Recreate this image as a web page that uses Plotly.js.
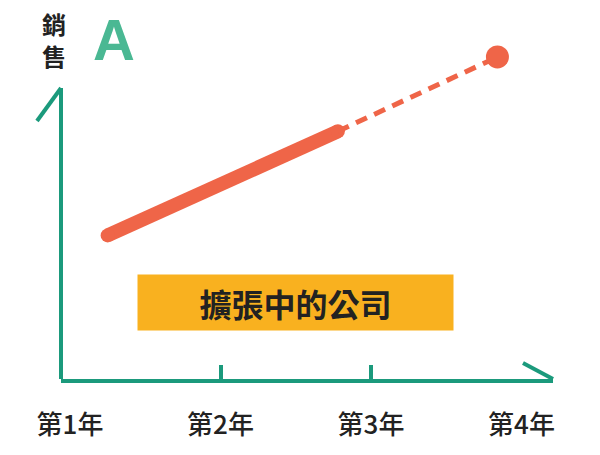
<!DOCTYPE html>
<html>
<head>
<meta charset="utf-8">
<script src="https://cdn.plot.ly/plotly-3.0.1.min.js"></script>
<style>
  html, body { margin: 0; padding: 0; background: #fff; }
  #plot { width: 600px; height: 455px; }
</style>
</head>
<body>
<div id="plot"></div>
<script>
const years = ["第1年", "第2年", "第3年", "第4年"];
const yearPos = [1, 2, 3, 4];
const midTicks = [2, 3];

// solid part (actual) and dashed part (projection)
const actualX = [1.25, 2.78];
const actualY = [40, 69];
const forecastX = [2.78, 3.84];
const forecastY = [69, 89.7];

const yTitle = ["銷", "售"];
const letter = "A";
const boxText = "擴張中的公司";

const TEAL = "#1b9a7c";
const ORANGE = "#ef6548";
const FONT = "Noto Sans CJK TC";

const solidTrace = {
  x: actualX,
  y: actualY,
  type: "scatter",
  mode: "lines+markers",
  line: { color: ORANGE, width: 14 },
  marker: { color: ORANGE, size: 14 },
  cliponaxis: false,
  hoverinfo: "skip",
};

const dashTrace = {
  x: forecastX,
  y: forecastY,
  type: "scatter",
  mode: "lines",
  line: { color: ORANGE, width: 5, dash: "12px,8px" },
  cliponaxis: false,
  hoverinfo: "skip",
};

const endTrace = {
  x: forecastX.slice(-1),
  y: forecastY.slice(-1),
  type: "scatter",
  mode: "markers",
  marker: { color: ORANGE, size: 23 },
  cliponaxis: false,
  hoverinfo: "skip",
};

// invisible trace so the tick-mark axis gets drawn
const tickTrace = {
  x: midTicks,
  y: [0, 0],
  xaxis: "x2",
  type: "scatter",
  mode: "markers",
  marker: { opacity: 0 },
  hoverinfo: "skip",
};

const xr = [0.9402, 4.2093];

const titleFont = { family: FONT, size: 24, color: "#222", weight: 700 };

Plotly.newPlot("plot", [solidTrace, dashTrace, endTrace, tickTrace], {
  width: 600,
  height: 455,
  margin: { l: 61, r: 47, t: 20, b: 76 },
  paper_bgcolor: "#fff",
  plot_bgcolor: "#fff",
  showlegend: false,
  font: { family: FONT, color: "#222" },
  xaxis: {
    range: xr,
    tickvals: yearPos,
    ticktext: years,
    ticks: "",
    showgrid: false,
    zeroline: false,
    showline: true,
    linecolor: TEAL,
    linewidth: 4,
    ticklabelstandoff: 20,
    tickfont: { family: FONT, size: 26, color: "#222", weight: 500 },
  },
  xaxis2: {
    range: xr,
    overlaying: "x",
    anchor: "y",
    side: "bottom",
    tickvals: midTicks,
    ticks: "inside",
    ticklen: 14,
    tickwidth: 4,
    tickcolor: TEAL,
    showticklabels: false,
    showgrid: false,
    zeroline: false,
    showline: false,
  },
  yaxis: {
    range: [0, 100],
    showgrid: false,
    zeroline: false,
    showline: false,
    showticklabels: false,
    ticks: "",
  },
  shapes: [
    { type: "line", xref: "paper", yref: "paper", x0: 0, y0: 0, x1: 0, y1: 0.8106,
      line: { color: TEAL, width: 4 } },
    { type: "line", xref: "paper", yref: "paper", x0: 0, y0: 0.8106, x1: -0.0488, y1: 0.7187,
      line: { color: TEAL, width: 4 } },
    { type: "line", xref: "paper", yref: "paper", x0: 1, y0: 0, x1: 0.939, y1: 0.0446,
      line: { color: TEAL, width: 4 } },
  ],
  annotations: [
    {
      text: yTitle[0], xref: "paper", yref: "paper", x: -0.0142, y: 0.989,
      xanchor: "center", yanchor: "middle", showarrow: false, font: titleFont,
    },
    {
      text: yTitle[1], xref: "paper", yref: "paper", x: -0.0142, y: 0.9,
      xanchor: "center", yanchor: "middle", showarrow: false, font: titleFont,
    },
    {
      text: letter, xref: "paper", yref: "paper", x: 0.1077, y: 0.946,
      xanchor: "center", yanchor: "middle", showarrow: false,
      font: { family: "Liberation Sans", size: 58, color: "#4ab893", weight: 700 },
    },
    {
      text: boxText, xref: "x", yref: "y", x: 2.498, y: 21.3,
      xanchor: "center", yanchor: "middle", showarrow: false,
      bgcolor: "#f9b11f", width: 315, height: 55, borderpad: 0,
      font: { family: FONT, size: 32, color: "#222", weight: 700 },
    },
  ],
}, { displayModeBar: false, staticPlot: true });
</script>
</body>
</html>
